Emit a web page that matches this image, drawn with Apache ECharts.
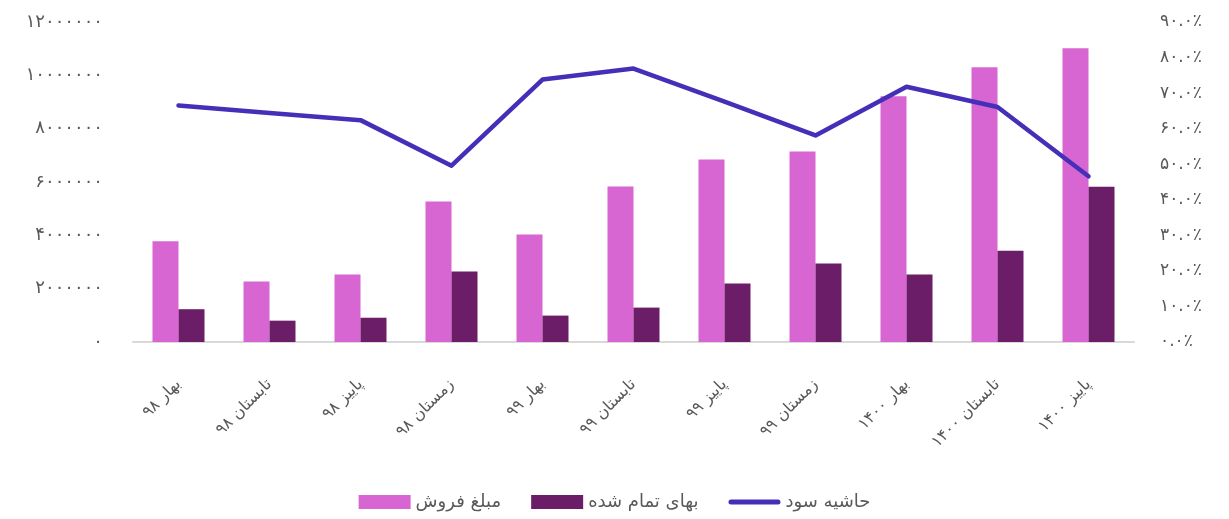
<!DOCTYPE html>
<html>
<head>
<meta charset="utf-8">
<script src="https://cdn.jsdelivr.net/npm/echarts@6/dist/echarts.min.js"></script>
<style>
  html, body { margin: 0; padding: 0; background: #fff; }
  #main { width: 1229px; height: 519px; }
</style>
</head>
<body>
<div id="main"></div>
<script>
// فصل‌ها
var categories = ['بهار ۹۸', 'تابستان ۹۸', 'پاییز ۹۸', 'زمستان ۹۸', 'بهار ۹۹', 'تابستان ۹۹',
  'پاییز ۹۹', 'زمستان ۹۹', 'بهار ۱۴۰۰', 'تابستان ۱۴۰۰', 'پاییز ۱۴۰۰'];
// مبلغ فروش
var sales = [3780000, 2270000, 2530000, 5270000, 4030000, 5830000, 6840000, 7140000, 9220000, 10300000, 11020000];
// بهای تمام شده
var cost = [1230000, 800000, 910000, 2640000, 990000, 1290000, 2190000, 2940000, 2530000, 3420000, 5820000];
// حاشیه سود (درصد)
var margin = [66.5, 64.4, 62.4, 49.6, 73.8, 76.9, 67.6, 58.1, 71.8, 66.1, 46.6];

var seriesNames = ['مبلغ فروش', 'بهای تمام شده', 'حاشیه سود'];

var faDigits = '۰۱۲۳۴۵۶۷۸۹';
function toFa(s) {
  return String(s).replace(/[0-9]/g, function (d) { return faDigits[+d]; });
}

var textColor = '#595959';
var font = 'DejaVu Sans';

var myChart = echarts.init(document.getElementById('main'));
myChart.setOption({
  animation: false,
  textStyle: { fontFamily: font, color: textColor },
  grid: { left: 133, right: 95, top: 22, bottom: 177 },
  legend: {
    bottom: 3,
    left: 'center',
    itemWidth: 52,
    itemHeight: 14,
    itemGap: 30,
    textStyle: { fontSize: 18, color: textColor, fontFamily: font },
    data: [
      { name: seriesNames[0], icon: 'rect' },
      { name: seriesNames[1], icon: 'rect' },
      { name: seriesNames[2], icon: 'path://M2.5,0 L49.5,0 A2.5,2.5 0 0 1 49.5,5 L2.5,5 A2.5,2.5 0 0 1 2.5,0 Z' }
    ]
  },
  xAxis: {
    type: 'category',
    data: categories,
    axisLine: { show: true, lineStyle: { color: '#d9d9d9', width: 2 } },
    axisTick: { show: false },
    axisLabel: {
      rotate: 45,
      margin: 40,
      fontSize: 16,
      color: textColor,
      fontFamily: font,
      interval: 0
    }
  },
  yAxis: [
    {
      type: 'value',
      min: 0,
      max: 12000000,
      interval: 2000000,
      splitLine: { show: false },
      axisLine: { show: false },
      axisTick: { show: false },
      axisLabel: {
        margin: 30,
        fontSize: 18,
        color: textColor,
        fontFamily: font,
        padding: [0, 0, 8, 0],
        formatter: function (v) { return toFa(v); }
      }
    },
    {
      type: 'value',
      min: 0,
      max: 90,
      interval: 10,
      splitLine: { show: false },
      axisLine: { show: false },
      axisTick: { show: false },
      axisLabel: {
        margin: 26,
        fontSize: 17,
        color: textColor,
        fontFamily: font,
        padding: [0, 0, 8, 0],
        formatter: function (v) { return toFa(v.toFixed(1)) + '٪'; }
      }
    }
  ],
  series: [
    {
      name: seriesNames[0],
      type: 'bar',
      data: sales,
      barWidth: 26,
      barGap: '0%',
      itemStyle: { color: '#d766d2' }
    },
    {
      name: seriesNames[1],
      type: 'bar',
      data: cost,
      barWidth: 26,
      itemStyle: { color: '#6c1d68' }
    },
    {
      name: seriesNames[2],
      type: 'line',
      yAxisIndex: 1,
      data: margin,
      symbol: 'none',
      lineStyle: { color: '#4430b8', width: 4.5, cap: 'round', join: 'round' },
      itemStyle: { color: '#4430b8' }
    }
  ]
});
</script>
</body>
</html>
